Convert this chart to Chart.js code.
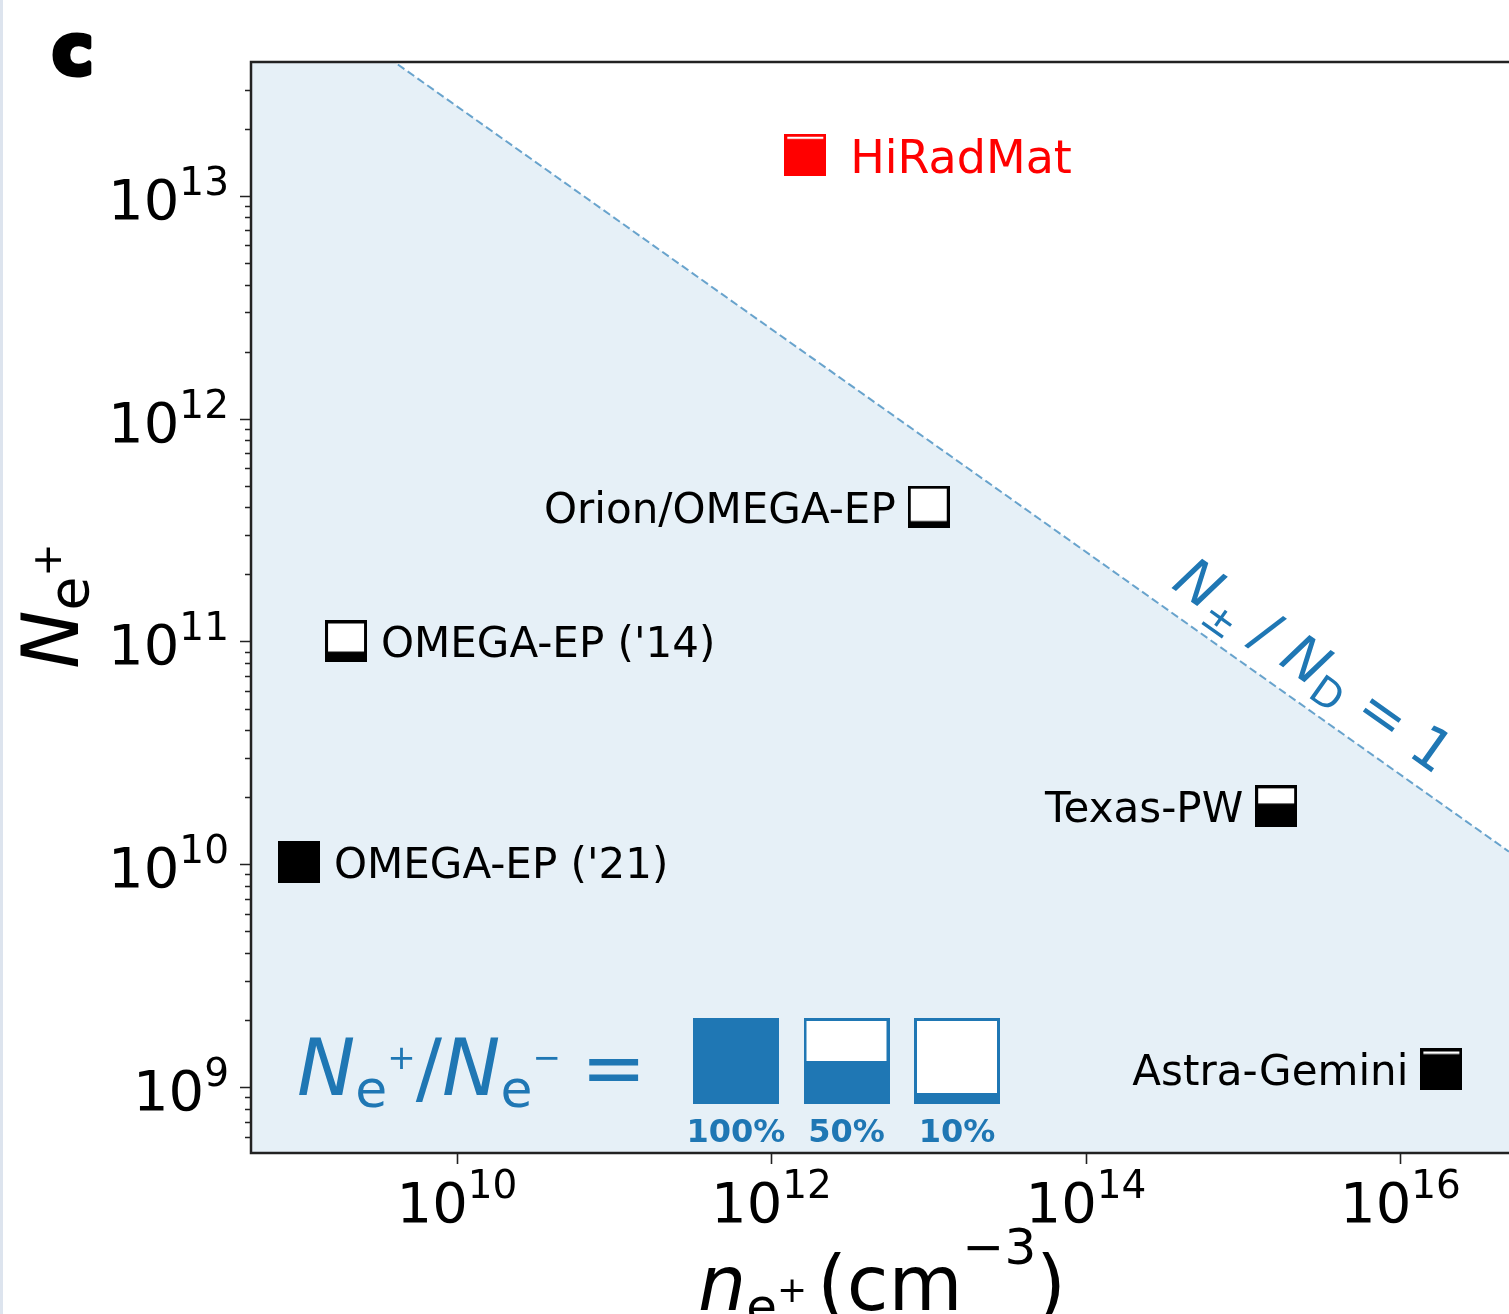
<!doctype html>
<html lang="en">
<head>
<meta charset="utf-8">
<title>Positron sources</title>
<script src="https://cdn.jsdelivr.net/npm/chart.js@4.4.1/dist/chart.umd.min.js"></script>
<style>
  body { margin: 0; background: #fff; }
  canvas { display: block; }
</style>
</head>
<body>
<canvas id="chart" width="1509" height="1314"></canvas>
<script>
// facilities
var names = ['HiRadMat', 'Orion/OMEGA-EP', "OMEGA-EP ('14)", "OMEGA-EP ('21)", 'Texas-PW', 'Astra-Gemini'];
var density = [1.64e12, 1.0e13, 1.97e9, 9.9e8, 1.62e15, 1.82e16];      // n_e+ (cm^-3)
var positrons = [1.53e13, 4.03e11, 1.0e11, 1.02e10, 1.82e10, 1.2e9];   // N_e+
var ratio = [0.94, 0.1, 0.22, 1.0, 0.58, 0.93];                         // N_e+/N_e-
var labelSide = ['right', 'left', 'right', 'right', 'left', 'left'];
var markColor = ['#ff0000', '#000', '#000', '#000', '#000', '#000'];

// N+-/ND = 1 boundary
var lineX = [4.9e8, 4.9e16];
var lineY = [1.14e14, 1.14e10];
var lineLabelX = 1.93e15;

// ratio key
var keyRatio = [1.0, 0.5, 0.1];
var keyText = ['100%', '50%', '10%'];

var xTickExp = [10, 12, 14, 16];
var yTickExp = [9, 10, 11, 12, 13];
var xMin = 4.9e8, xMax = 4.9e16, yMin = 5.06e8, yMax = 3.99e13;

var BLUE = '#1f77b4';
var FONT = "'DejaVu Sans'";

function marker(size, lw, frac, col) {
  var c = document.createElement('canvas');
  c.width = size; c.height = size;
  var g = c.getContext('2d');
  g.fillStyle = col;
  g.fillRect(0, 0, size, size);
  var inner = size - 2 * lw;
  var white = inner * (1 - frac);
  g.fillStyle = '#fff';
  if (white > 0) g.fillRect(lw, lw, inner, white);
  return c;
}

// draw a run of text pieces (for sub/superscripts)
function rich(ctx, parts, x, y, align) {
  var w = 0;
  parts.forEach(function (p) { ctx.font = p.f; w += ctx.measureText(p.t).width + (p.gap || 0); });
  var cx = x - w * align;
  parts.forEach(function (p) {
    ctx.font = p.f;
    ctx.fillText(p.t, cx, y + (p.dy || 0));
    cx += ctx.measureText(p.t).width + (p.gap || 0);
  });
  return w;
}

var decor = {
  id: 'decor',
  afterDatasetsDraw: function (chart) {
    var ctx = chart.ctx, a = chart.chartArea, xs = chart.scales.x, ys = chart.scales.y;
    ctx.save();
    ctx.textAlign = 'left';
    ctx.textBaseline = 'alphabetic';

    // thin page edge on the left
    ctx.fillStyle = '#dde4ee';
    ctx.fillRect(0, 0, 3, chart.height);

    // spines
    ctx.strokeStyle = '#222';
    ctx.lineWidth = 2.5;
    ctx.beginPath();
    ctx.moveTo(a.right, a.top); ctx.lineTo(a.left, a.top);
    ctx.lineTo(a.left, a.bottom); ctx.lineTo(a.right, a.bottom);
    ctx.stroke();

    // y ticks (major + minor)
    ctx.lineWidth = 1.6;
    ctx.beginPath();
    for (var e = 8; e <= 13; e++) {
      for (var m = 1; m <= 9; m++) {
        var v = m * Math.pow(10, e);
        if (v < yMin || v > yMax) continue;
        var py = Math.round(ys.getPixelForValue(v)) + 0.5;
        ctx.moveTo(a.left, py); ctx.lineTo(a.left - (m === 1 ? 11 : 6), py);
      }
    }
    // x ticks
    xTickExp.forEach(function (e) {
      var px = Math.round(xs.getPixelForValue(Math.pow(10, e))) + 0.5;
      ctx.moveTo(px, a.bottom); ctx.lineTo(px, a.bottom + 11);
    });
    ctx.stroke();

    // tick labels
    ctx.fillStyle = '#000';
    yTickExp.forEach(function (e) {
      var py = ys.getPixelForValue(Math.pow(10, e));
      rich(ctx, [{ t: '10', f: '56px ' + FONT }, { t: String(e), f: '39px ' + FONT, dy: -24 }], a.left - 22, py + 23, 1);
    });
    xTickExp.forEach(function (e) {
      var px = xs.getPixelForValue(Math.pow(10, e));
      rich(ctx, [{ t: '10', f: '56px ' + FONT }, { t: String(e), f: '39px ' + FONT, dy: -24 }], px, a.bottom + 69, 0.5);
    });

    // axis titles
    rich(ctx, [
      { t: 'n', f: 'italic 76px ' + FONT },
      { t: 'e', f: '50px ' + FONT, dy: 14 },
      { t: '+', f: '36px ' + FONT, dy: -8, gap: 10 },
      { t: '(cm', f: '76px ' + FONT },
      { t: '\u22123', f: '50px ' + FONT, dy: -46 },
      { t: ')', f: '76px ' + FONT }
    ], 882, 1310, 0.5);

    ctx.save();
    ctx.translate(78, 606);
    ctx.rotate(-Math.PI / 2);
    rich(ctx, [
      { t: 'N', f: 'italic 78px ' + FONT },
      { t: 'e', f: '55px ' + FONT, dy: 10 },
      { t: '+', f: '40px ' + FONT, dy: -17 }
    ], 0, 0, 0.5);
    ctx.restore();

    // panel letter
    ctx.font = 'bold 70px ' + FONT;
    ctx.lineWidth = 5;
    ctx.strokeStyle = '#000';
    ctx.lineJoin = 'round';
    ctx.strokeText('c', 52, 74);
    ctx.fillText('c', 52, 74);

    // facility labels
    names.forEach(function (n, i) {
      var px = xs.getPixelForValue(density[i]);
      var py = ys.getPixelForValue(positrons[i]);
      var big = i === 0;
      ctx.font = (big ? 46 : 42) + 'px ' + FONT;
      ctx.fillStyle = markColor[i];
      if (labelSide[i] === 'right') {
        ctx.textAlign = 'left';
        ctx.fillText(n, px + (big ? 45 : 35), py + (big ? 18 : 16));
      } else {
        ctx.textAlign = 'right';
        ctx.fillText(n, px - 33, py + 16);
      }
    });
    ctx.textAlign = 'left';

    // boundary label along the dashed line
    var p0x = xs.getPixelForValue(lineX[0]), p0y = ys.getPixelForValue(lineY[0]);
    var p1x = xs.getPixelForValue(lineX[1]), p1y = ys.getPixelForValue(lineY[1]);
    var ang = Math.atan2(p1y - p0y, p1x - p0x);
    var t = (Math.log(lineLabelX) - Math.log(lineX[0])) / (Math.log(lineX[1]) - Math.log(lineX[0]));
    ctx.save();
    ctx.translate(p0x + t * (p1x - p0x), p0y + t * (p1y - p0y));
    ctx.rotate(ang);
    ctx.fillStyle = BLUE;
    rich(ctx, [
      { t: 'N', f: 'italic 57px ' + FONT },
      { t: '\u00b1', f: '40px ' + FONT, dy: 12 },
      { t: ' / ', f: '57px ' + FONT },
      { t: 'N', f: 'italic 57px ' + FONT },
      { t: 'D', f: '40px ' + FONT, dy: 10 },
      { t: ' = 1', f: '57px ' + FONT }
    ], 4, -20, 0.5);
    ctx.restore();

    // ratio key
    ctx.fillStyle = BLUE;
    rich(ctx, [
      { t: 'N', f: 'italic 78px ' + FONT },
      { t: 'e', f: '52px ' + FONT, dy: 12 },
      { t: '+', f: '34px ' + FONT, dy: -26 },
      { t: '/', f: '78px ' + FONT },
      { t: 'N', f: 'italic 78px ' + FONT },
      { t: 'e', f: '52px ' + FONT, dy: 12 },
      { t: '\u2212', f: '34px ' + FONT, dy: -26, gap: 20 },
      { t: '=', f: '78px ' + FONT }
    ], a.left + 46, 1095, 0);

    keyRatio.forEach(function (r, i) {
      var bx = a.left + 442 + i * 110.5;
      ctx.drawImage(marker(86, 3, r, BLUE), bx, 1018);
      ctx.font = 'bold 32px ' + FONT;
      ctx.textAlign = 'center';
      ctx.fillText(keyText[i], bx + 43, 1142);
    });
    ctx.restore();
  }
};

var points = density.map(function (x, i) { return { x: x, y: positrons[i] }; });

new Chart(document.getElementById('chart'), {
  type: 'scatter',
  data: {
    datasets: [
      {
        data: points,
        pointStyle: ratio.map(function (r, i) { return marker(42, 3, r, markColor[i]); }),
        pointRadius: 21,
        pointHoverRadius: 21
      },
      {
        type: 'line',
        data: lineX.map(function (x, i) { return { x: x, y: lineY[i] }; }),
        showLine: true,
        borderColor: 'rgba(31,119,180,0.65)',
        borderWidth: 2,
        borderDash: [8, 4],
        pointRadius: 0,
        fill: 'start',
        backgroundColor: 'rgba(31,119,180,0.11)'
      }
    ]
  },
  options: {
    responsive: false,
    animation: false,
    events: [],
    layout: { autoPadding: false, padding: { top: 62, left: 0, right: 0, bottom: 0 } },
    plugins: { legend: { display: false }, tooltip: { enabled: false } },
    scales: {
      x: {
        type: 'logarithmic', min: xMin, max: xMax,
        ticks: { display: false }, grid: { display: false }, border: { display: false },
        afterFit: function (s) { s.height = 161; }
      },
      y: {
        type: 'logarithmic', min: yMin, max: yMax,
        ticks: { display: false }, grid: { display: false }, border: { display: false },
        afterFit: function (s) { s.width = 251; }
      }
    }
  },
  plugins: [decor]
});
</script>
</body>
</html>
